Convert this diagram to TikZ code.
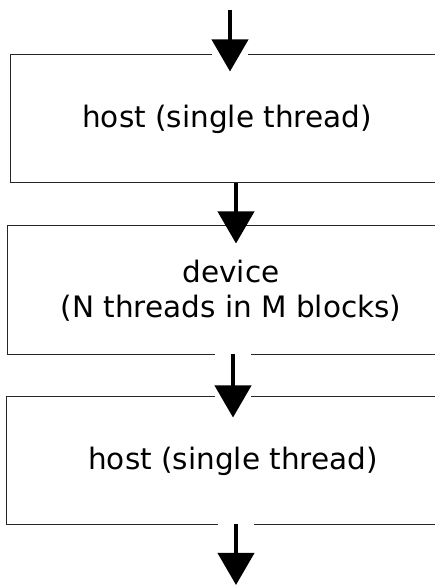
\documentclass[tikz,border=0pt]{standalone}
\usepackage{fontspec}
\setmainfont{DejaVu Sans}
\usetikzlibrary{arrows.meta}

\tikzset{
    stage/.style={draw=black!85, line width=1pt, align=center, inner sep=0pt,
        minimum height=128pt, font=\fontsize{29.5}{35}\selectfont},
    flow/.style={line width=4pt, -{Triangle[width=36pt,length=32pt]}},
    gap/.style={preaction={draw=white, line width=36pt, -}}
}

\begin{document}
\begin{tikzpicture}[x=1pt,y=1pt]
    \useasboundingbox (0,0) rectangle (435,585);
    \clip (0,0) rectangle (435,585);
    % the three stages, open at the right edge
    \node[stage, minimum width=434pt] (host1) at (227,466) {host (single thread)};
    \node[stage, minimum width=448pt, minimum height=129pt] (dev) at (231,294.5)
        {device\\(N threads in M blocks)};
    \node[stage, minimum width=454pt] (host2) at (233,124) {host (single thread)};
    \coordinate (in) at (230,575); \coordinate (out) at (236,0);
    % control flow
    \draw[flow, gap] (in) -- ([xshift=3pt,yshift=-17pt]host1.north);
    \draw[flow] ([xshift=9pt]host1.south) -- ([xshift=5pt,yshift=-18pt]dev.north);
    \draw[flow, gap] ([xshift=2pt,yshift=1pt]dev.south) -- ([yshift=-21pt]host2.north);
    \draw[flow, gap] ([xshift=3pt,yshift=1pt]host2.south) -- (out);
\end{tikzpicture}
\end{document}
